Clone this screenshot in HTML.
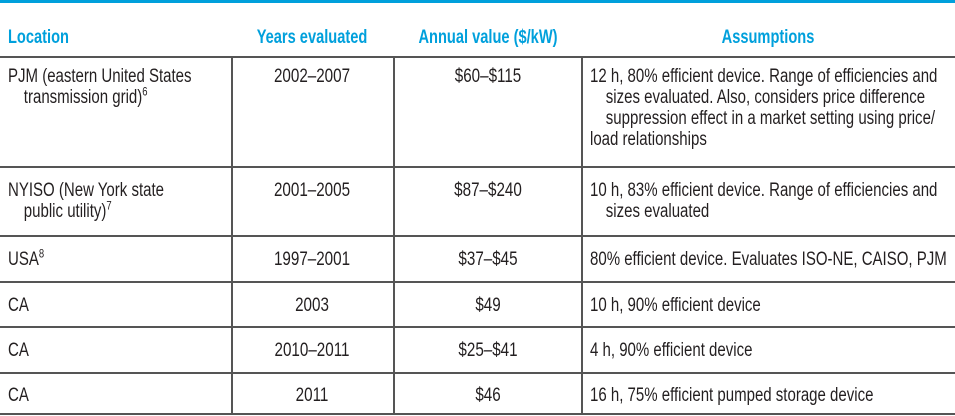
<!DOCTYPE html>
<html><head><meta charset="utf-8"><style>
body{margin:0;width:955px;height:416px;background:#fff;position:relative;overflow:hidden;font-family:"Liberation Sans Narrow","Liberation Sans",sans-serif;color:#231f20}
.t{position:absolute;font-size:19px;line-height:21px;white-space:nowrap;transform:scaleX(.79);transform-origin:0 0}
.h{position:absolute;top:27px;font-size:19px;font-weight:bold;color:#00a0dc;white-space:nowrap;transform:scaleX(.77);transform-origin:0 0}
.t.c{transform:translateX(-50%) scaleX(.8);transform-origin:50% 0}
.h.c{transform:translateX(-50%) scaleX(.77);transform-origin:50% 0}
.hl{position:absolute;left:0;width:955px;height:2px;background:#555}
.vl{position:absolute;width:2px;background:#555;top:57px;height:358px}
.i{display:inline-block;margin-left:20px}
sup{font-size:12px;line-height:0}
</style></head><body>
<div style="position:absolute;left:0;top:0;width:955px;height:3px;background:#00a0dc"></div>
<div class="h" style="left:8px">Location</div>
<div class="h c" style="left:312px">Years evaluated</div>
<div class="h c" style="left:488px">Annual value ($/kW)</div>
<div class="h c" style="left:768px">Assumptions</div>
<div class="hl" style="top:56px"></div>
<div class="hl" style="top:166px"></div>
<div class="hl" style="top:235px"></div>
<div class="hl" style="top:281px"></div>
<div class="hl" style="top:326px"></div>
<div class="hl" style="top:372px"></div>
<div class="hl" style="top:413px"></div>
<div class="vl" style="left:231px"></div>
<div class="vl" style="left:393px"></div>
<div class="vl" style="left:581px"></div>

<div class="t" style="left:8px;top:66px">PJM (eastern United States<br><span class="i">transmission grid)<sup>6</sup></span></div>
<div class="t c" style="left:312px;top:66px">2002–2007</div>
<div class="t c" style="left:488px;top:66px">$60–$115</div>
<div class="t" style="left:590px;top:66px">12 h, 80% efficient device. Range of efficiencies and<br><span class="i">sizes evaluated. Also, considers price difference</span><br><span class="i">suppression effect in a market setting using price/</span><br>load relationships</div>

<div class="t" style="left:8px;top:180px">NYISO (New York state<br><span class="i">public utility)<sup>7</sup></span></div>
<div class="t c" style="left:312px;top:180px">2001–2005</div>
<div class="t c" style="left:488px;top:180px">$87–$240</div>
<div class="t" style="left:590px;top:180px">10 h, 83% efficient device. Range of efficiencies and<br><span class="i">sizes evaluated</span></div>

<div class="t" style="left:8px;top:249px">USA<sup>8</sup></div>
<div class="t c" style="left:312px;top:249px">1997–2001</div>
<div class="t c" style="left:488px;top:249px">$37–$45</div>
<div class="t" style="left:590px;top:249px">80% efficient device. Evaluates ISO-NE, CAISO, PJM</div>

<div class="t" style="left:8px;top:295px">CA</div>
<div class="t c" style="left:312px;top:295px">2003</div>
<div class="t c" style="left:488px;top:295px">$49</div>
<div class="t" style="left:590px;top:295px">10 h, 90% efficient device</div>

<div class="t" style="left:8px;top:340px">CA</div>
<div class="t c" style="left:312px;top:340px">2010–2011</div>
<div class="t c" style="left:488px;top:340px">$25–$41</div>
<div class="t" style="left:590px;top:340px">4 h, 90% efficient device</div>

<div class="t" style="left:8px;top:385px">CA</div>
<div class="t c" style="left:312px;top:385px">2011</div>
<div class="t c" style="left:488px;top:385px">$46</div>
<div class="t" style="left:590px;top:385px">16 h, 75% efficient pumped storage device</div>
</body></html>
